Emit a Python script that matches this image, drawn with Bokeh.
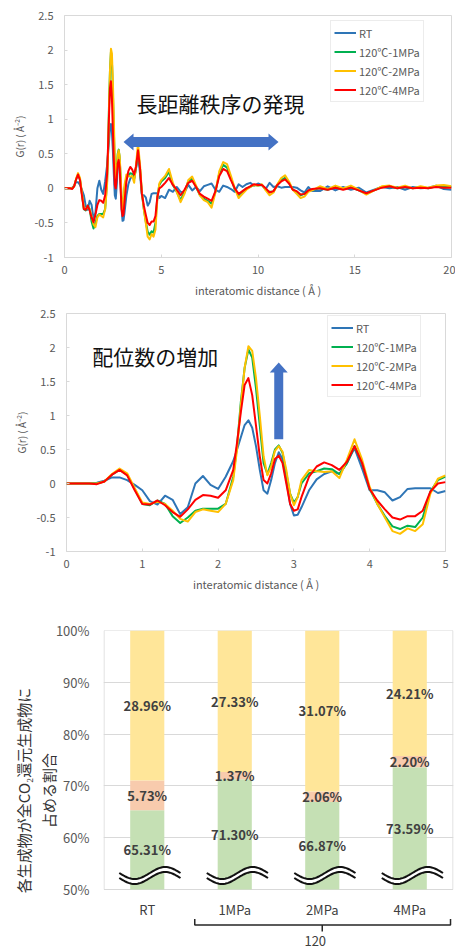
import math
from bokeh.plotting import figure
from bokeh.layouts import column
from bokeh.models import (Legend, LegendItem, NumeralTickFormatter, PrintfTickFormatter,
                          FixedTicker, Range1d, FactorRange)
from bokeh.embed import file_html
from bokeh.resources import INLINE
from bokeh.core.properties import value

FONT = "Noto Sans CJK JP"
GREY_TXT = "#595959"
GREY_LINE = "#D9D9D9"

# ---------------- G(r) data ----------------
R_NEAR = [0.0, 0.1, 0.2, 0.3, 0.4, 0.5, 0.6, 0.7, 0.8, 0.9, 1.0, 1.1, 1.2, 1.3, 1.4, 1.5, 1.6, 1.7, 1.8, 1.9, 2.0, 2.1, 2.2,
          2.25, 2.3, 2.35, 2.4, 2.45, 2.5, 2.55, 2.6, 2.65, 2.7, 2.75, 2.8, 2.85, 2.9, 2.95, 3.0, 3.05, 3.1,
          3.2, 3.3, 3.4, 3.5, 3.6, 3.7, 3.8, 3.9, 4.0, 4.1, 4.2, 4.3, 4.4, 4.5, 4.6, 4.7, 4.8, 4.9, 5.0]
RT_NEAR = [0, 0, 0, 0, 0.01, 0.04, 0.09, 0.09, 0.05, -0.02, -0.1, -0.26, -0.31, -0.18, -0.24, -0.45, -0.35, 0.0, 0.11, -0.02, -0.08, 0.1, 0.33,
           0.5, 0.68, 0.86, 0.93, 0.82, 0.55, 0.2, -0.1, -0.15, 0.05, 0.3, 0.46, 0.36, 0.05, -0.3, -0.47, -0.46, -0.35,
           -0.1, 0.06, 0.14, 0.18, 0.14, 0.3, 0.52, 0.22, -0.1, -0.1, -0.13, -0.25, -0.2, -0.08, -0.07, -0.07, -0.07, -0.14, -0.11]
MPA1_NEAR = [0, 0, 0, 0, 0, 0.03, 0.13, 0.2, 0.13, -0.08, -0.3, -0.32, -0.25, -0.3, -0.48, -0.58, -0.5, -0.4, -0.37, -0.37, -0.37, -0.3, 0.1,
             0.55, 1.2, 1.7, 1.97, 1.85, 1.4, 0.85, 0.3, 0.14, 0.3, 0.5, 0.56, 0.45, 0.15, -0.15, -0.28, -0.2, 0.0,
             0.15, 0.18, 0.22, 0.21, 0.14, 0.3, 0.55, 0.3, -0.08, -0.3, -0.48, -0.63, -0.67, -0.62, -0.64, -0.5, -0.12, 0.05, 0.1]
MPA2_NEAR = [0, 0, 0, 0, 0, 0.03, 0.14, 0.22, 0.15, -0.07, -0.28, -0.3, -0.27, -0.3, -0.4, -0.52, -0.56, -0.42, -0.38, -0.4, -0.42, -0.3, 0.05,
             0.5, 1.15, 1.7, 2.02, 1.95, 1.55, 1.0, 0.4, 0.12, 0.25, 0.48, 0.55, 0.47, 0.2, -0.15, -0.32, -0.2, 0.05,
             0.2, 0.18, 0.17, 0.18, 0.08, 0.35, 0.65, 0.35, -0.05, -0.3, -0.5, -0.7, -0.74, -0.66, -0.7, -0.6, -0.15, 0.07, 0.12]
MPA4_NEAR = [0, 0, 0, 0, -0.01, 0.03, 0.13, 0.2, 0.12, -0.1, -0.3, -0.31, -0.25, -0.32, -0.42, -0.49, -0.38, -0.24, -0.17, -0.18, -0.21, -0.1, 0.2,
             0.6, 1.05, 1.45, 1.55, 1.3, 0.85, 0.4, 0.05, 0.0, 0.15, 0.36, 0.41, 0.3, 0.0, -0.3, -0.4, -0.38, -0.2,
             0.1, 0.25, 0.31, 0.27, 0.2, 0.32, 0.55, 0.3, -0.08, -0.25, -0.38, -0.5, -0.53, -0.48, -0.48, -0.4, -0.12, 0.0, 0.02]

R_FAR = [5.2, 5.4, 5.6, 5.8, 6.0, 6.2, 6.4, 6.6, 6.8, 7.0, 7.2, 7.4, 7.6, 7.8, 8.0, 8.2, 8.4, 8.6, 8.8, 9.0,
         9.2, 9.4, 9.6, 9.8, 10.0, 10.2, 10.4, 10.6, 10.8, 11.0, 11.2, 11.4, 11.6, 11.8, 12.0, 12.2, 12.4, 12.6, 12.8,
         13.2, 13.6, 14.0, 14.4, 14.8, 15.2, 15.6, 16.0, 16.4, 16.8, 17.2, 17.6, 18.0, 18.4, 18.8, 19.2, 19.6, 20.0]
RT_FAR = [-0.14, -0.02, -0.05, 0.02, -0.05, -0.06, 0.05, -0.03, 0.02, -0.04, 0.03, 0.05, 0.07, -0.02, -0.05, 0.04, 0.02, -0.01, -0.05, 0.06,
          0.02, 0.06, 0.08, 0.04, 0.07, 0.05, -0.01, 0.08, 0.02, 0.03, 0.01, 0.02, 0.02, 0.02, 0.01, -0.03, -0.06, 0.02, -0.04,
          -0.04, 0.03, -0.03, 0.02, -0.02, 0.01, -0.06, -0.02, 0.02, 0.0, 0.02, -0.02, 0.02, 0.0, 0.01, 0.04, -0.01, -0.02]
MPA1_FAR = [0.15, 0.24, 0.05, -0.05, -0.17, -0.05, 0.1, 0.14, 0.02, -0.1, -0.15, -0.18, -0.22, -0.05, 0.22, 0.34, 0.3, 0.15, -0.02, -0.1,
            -0.05, 0.0, 0.02, 0.05, 0.04, 0.05, -0.02, -0.05, -0.05, 0.05, 0.12, 0.15, 0.08, -0.02, -0.05, -0.1, -0.08, -0.03, -0.02,
            0.0, -0.02, 0.02, -0.01, 0.02, -0.03, -0.08, -0.03, 0.02, 0.03, 0.0, 0.02, 0.0, 0.02, 0.0, 0.03, 0.02, 0.02]
MPA2_FAR = [0.18, 0.28, 0.08, -0.05, -0.2, -0.08, 0.12, 0.17, 0.04, -0.1, -0.17, -0.2, -0.28, -0.06, 0.25, 0.38, 0.35, 0.18, 0.0, -0.14,
            -0.08, -0.02, 0.02, 0.05, 0.04, 0.06, -0.03, -0.1, -0.06, 0.06, 0.15, 0.19, 0.1, -0.02, -0.08, -0.14, -0.12, -0.05, -0.03,
            0.03, -0.01, 0.04, 0.0, 0.04, -0.02, -0.09, -0.03, 0.03, 0.04, 0.01, 0.04, 0.0, 0.03, 0.01, 0.04, 0.05, 0.03]
MPA4_FAR = [0.08, 0.15, 0.05, -0.02, -0.1, -0.02, 0.08, 0.11, 0.02, -0.08, -0.12, -0.15, -0.18, -0.04, 0.18, 0.28, 0.25, 0.12, 0.0, -0.08,
            -0.04, 0.0, 0.03, 0.06, 0.05, 0.05, 0.0, -0.06, -0.04, 0.05, 0.1, 0.13, 0.07, -0.02, -0.04, -0.09, -0.08, -0.03, -0.01,
            0.0, -0.02, 0.01, -0.02, 0.01, -0.03, -0.07, -0.03, 0.01, 0.03, 0.0, 0.02, 0.0, 0.01, 0.0, 0.02, 0.01, 0.01]

SERIES_NAMES = ["RT", "120℃-1MPa", "120℃-2MPa", "120℃-4MPa"]
SERIES_COLORS = ["#2E75B6", "#00B050", "#FFC000", "#FF0000"]
GR_Y_TICKS = [-1, -0.5, 0, 0.5, 1, 1.5, 2, 2.5]
GR_Y_RANGE = (-1, 2.5)

# ---------------- bar data ----------------
CATEGORIES = ["RT", "1MPa", "2MPa", "4MPa"]
GREEN = [65.31, 71.30, 66.87, 73.59]
ORANGE = [5.73, 1.37, 2.06, 2.20]
YELLOW = [28.96, 27.33, 31.07, 24.21]
PCT_TICKS = [50, 60, 70, 80, 90, 100]
GROUP_LABEL = "120"
BAR_COLORS = ["#C5E0B4", "#F8CBAD", "#FFE699"]


def arrow_poly(x0, y0, x1, y1, half_w, head_len, head_half, sx, sy):
    """Arrow outline; ends in data units, thickness/head in pixels."""
    if y0 == y1:
        hl = head_len / sx
        hw, hh = half_w / sy, head_half / sy
        xs = [x0, x0 + hl, x0 + hl, x1 - hl, x1 - hl, x1, x1 - hl, x1 - hl, x0 + hl, x0 + hl]
        ys = [y0, y0 + hh, y0 + hw, y0 + hw, y0 + hh, y0, y0 - hh, y0 - hw, y0 - hw, y0 - hh]
        return xs, ys
    hl = head_len / sy
    hw, hh = half_w / sx, head_half / sx
    xs = [x0 - hw, x0 - hw, x0 - hh, x0, x0 + hh, x0 + hw, x0 + hw]
    ys = [y0, y1 - hl, y1 - hl, y1, y1 - hl, y1 - hl, y0]
    return xs, ys


def gr_figure(r, ys, x_end, x_ticks, fw, fh, left, right, top, bottom, legend_xy):
    p = figure(frame_width=fw, frame_height=fh, x_range=Range1d(0, x_end), y_range=Range1d(*GR_Y_RANGE),
               min_border_left=left, min_border_right=right, min_border_top=top, min_border_bottom=bottom,
               frame_align=False, output_backend="svg", toolbar_location=None)
    p.outline_line_color = GREY_LINE
    p.grid.visible = False
    p.xaxis.ticker = FixedTicker(ticks=x_ticks)
    p.yaxis.ticker = FixedTicker(ticks=GR_Y_TICKS)
    p.xaxis.formatter = NumeralTickFormatter(format="0")
    p.yaxis.formatter = NumeralTickFormatter(format="0.[0]")
    for ax in (p.xaxis[0], p.yaxis[0]):
        ax.axis_line_color = None
        ax.major_tick_line_color = GREY_LINE
        ax.major_tick_in = 3
        ax.major_tick_out = 0
        ax.minor_tick_line_color = None
        ax.major_label_text_font = FONT
        ax.major_label_text_font_size = "11px"
        ax.major_label_text_color = GREY_TXT
        ax.axis_label_text_font = FONT
        ax.axis_label_text_font_style = "normal"
        ax.axis_label_text_color = GREY_TXT
    p.xaxis.axis_label = "interatomic distance ( Å )"
    p.xaxis.axis_label_text_font_size = "11px"
    p.xaxis.major_label_standoff = 8
    p.xaxis.axis_label_standoff = 5
    p.yaxis.axis_label = "G(r) ( Å⁻²)"
    p.yaxis.axis_label_text_font_size = "10px"
    p.yaxis.major_label_standoff = 11
    p.yaxis.axis_label_standoff = 4
    rends = []
    for y, c in zip(ys, SERIES_COLORS):
        rends.append(p.line(r, y, line_color=c, line_width=2, line_join="round"))
    legend = Legend(items=[LegendItem(label=n, renderers=[rr]) for n, rr in zip(SERIES_NAMES, rends)],
                    location=legend_xy, padding=3, spacing=2, label_height=17, glyph_height=17, glyph_width=22,
                    label_standoff=3, margin=0, border_line_color=GREY_LINE, background_fill_alpha=1,
                    label_text_font=FONT, label_text_font_size="11px", label_text_color=GREY_TXT)
    p.add_layout(legend)
    return p


ARROW_BLUE = "#4472C4"

# ---- panel 1 ----
F1W, F1H = 387, 242
p1 = gr_figure(R_NEAR + R_FAR, [RT_NEAR + RT_FAR, MPA1_NEAR + MPA1_FAR, MPA2_NEAR + MPA2_FAR, MPA4_NEAR + MPA4_FAR],
               20, [0, 5, 10, 15, 20], F1W, F1H, 64, 4, 15, 41, (266, 155))
sx1, sy1 = F1W / 20, F1H / 3.5
axs, ays = arrow_poly(3.05, 0.67, 11.06, 0.67, 5, 10, 8.5, sx1, sy1)
p1.patch(axs, ays, fill_color=ARROW_BLUE, line_color=None)
p1.text(x=[8.06], y=[1.23], text=["長距離秩序の発現"], text_font=value(FONT), text_font_size="21px",
        text_align="center", text_baseline="middle", text_color="#111111")

# ---- panel 2 ----
F2W, F2H = 379, 238
p2 = gr_figure(R_NEAR, [RT_NEAR, MPA1_NEAR, MPA2_NEAR, MPA4_NEAR],
               5, [0, 1, 2, 3, 4, 5], F2W, F2H, 66, 10, 13, 43, (261, 154))
sx2, sy2 = F2W / 5, F2H / 3.5
bxs, bys = arrow_poly(2.8, 0.65, 2.8, 1.78, 4.5, 10, 9, sx2, sy2)
p2.patch(bxs, bys, fill_color=ARROW_BLUE, line_color=None)
p2.text(x=[1.17], y=[1.88], text=["配位数の増加"], text_font=value(FONT), text_font_size="21px",
        text_align="center", text_baseline="middle", text_color="#111111")

# ---- panel 3 ----
F3W, F3H = 350, 320
VIS_H = 259              # pixel height of 50%..100%
FLOOR = PCT_TICKS[0]
TOP = PCT_TICKS[-1]
PPU = VIS_H / (TOP - FLOOR)   # px per percent
Y3_START = TOP - F3H / PPU


def below(px):
    return FLOOR - px / PPU


p3 = figure(frame_width=F3W, frame_height=F3H, x_range=FactorRange(factors=CATEGORIES),
            y_range=Range1d(Y3_START, TOP), min_border_left=103, min_border_right=2, min_border_top=36,
            min_border_bottom=0, frame_align=False, output_backend="svg", toolbar_location=None)
p3.xaxis.visible = False
p3.outline_line_color = None
p3.xgrid.visible = False
p3.ygrid.ticker = FixedTicker(ticks=PCT_TICKS[1:-1])
p3.ygrid.grid_line_color = GREY_LINE
p3.yaxis.ticker = FixedTicker(ticks=PCT_TICKS)
p3.yaxis.formatter = PrintfTickFormatter(format="%d%%")
ya = p3.yaxis[0]
ya.axis_line_color = None
ya.major_tick_line_color = None
ya.major_tick_out = 0
ya.major_tick_in = 0
ya.minor_tick_line_color = None
ya.major_label_text_font = FONT
ya.major_label_text_font_size = "13px"
ya.major_label_text_color = GREY_TXT
ya.major_label_standoff = 14
ya.axis_label = "各生成物が全CO₂還元生成物に\n占める割合"
ya.axis_label_text_font = FONT
ya.axis_label_text_font_size = "15px"
ya.axis_label_text_font_style = "normal"
ya.axis_label_text_color = "#333333"
ya.axis_label_standoff = -6

# plot-area border (50%..100%)
p3.quad(left=[0.006], right=[len(CATEGORIES) - 0.006], bottom=[FLOOR], top=[TOP],
        fill_color=None, line_color=GREY_LINE, line_width=1)

g_top = GREEN
o_top = [g + o for g, o in zip(GREEN, ORANGE)]
y_top = [g + o + y for g, o, y in zip(GREEN, ORANGE, YELLOW)]
BW = 0.39
p3.vbar(x=CATEGORIES, bottom=FLOOR, top=g_top, width=BW, fill_color=BAR_COLORS[0], line_color=None)
p3.vbar(x=CATEGORIES, bottom=g_top, top=o_top, width=BW, fill_color=BAR_COLORS[1], line_color=None)
p3.vbar(x=CATEGORIES, bottom=o_top, top=y_top, width=BW, fill_color=BAR_COLORS[2], line_color=None)

lab_x, lab_y, lab_t = [], [], []
for c, g, o, y, ot in zip(CATEGORIES, GREEN, ORANGE, YELLOW, o_top):
    lab_x += [c, c, c]
    lab_y += [(FLOOR + g) / 2, g + o / 2, ot + y / 2]
    lab_t += ["%.2f%%" % g, "%.2f%%" % o, "%.2f%%" % y]
p3.text(x=lab_x, y=lab_y, text=lab_t, text_font=value(FONT), text_font_size="13px", text_font_style="bold",
        text_align="center", text_baseline="middle", text_color="#404040")

# axis-break waves
N = 40
half_span = 0.35
amp = 6 / PPU
gap = 5 / PPU
yc = FLOOR + 14 / PPU
for i in range(len(CATEGORIES)):
    xc = i + 0.53
    ts = [k / N for k in range(N + 1)]
    xs = [xc - half_span + 2 * half_span * t for t in ts]
    base = [yc - amp * math.sin(2 * math.pi * t) for t in ts]
    up = [b + gap / 2 for b in base]
    lo = [b - gap / 2 for b in base]
    p3.patch(xs + xs[::-1], up + lo[::-1], fill_color="white", line_color=None)
    p3.line(xs, up, line_color="#111111", line_width=2)
    p3.line(xs, lo, line_color="#111111", line_width=2)

# category labels (below the 50% floor)
p3.text(x=CATEGORIES, y=[below(20)] * len(CATEGORIES), text=CATEGORIES, text_font=value(FONT),
        text_font_size="13px", text_align="center", text_baseline="middle", text_color="#404040")
# bracket under the 120 group
bl, br, bm = 1.043, 3.966, 2.5
p3.line([bl, bl, br, br], [below(29.5), below(35.5), below(35.5), below(29.5)], line_color="#262626", line_width=1.5)
p3.line([bm, bm], [below(35.5), below(42)], line_color="#262626", line_width=1.5)
p3.text(x=[2.42], y=[below(51)], text=[GROUP_LABEL], text_font=value(FONT), text_font_size="13px",
        text_align="center", text_baseline="middle", text_color="#404040")

layout = column(p1, p2, p3, spacing=0)
open("out.html", "w").write(file_html(layout, INLINE))
